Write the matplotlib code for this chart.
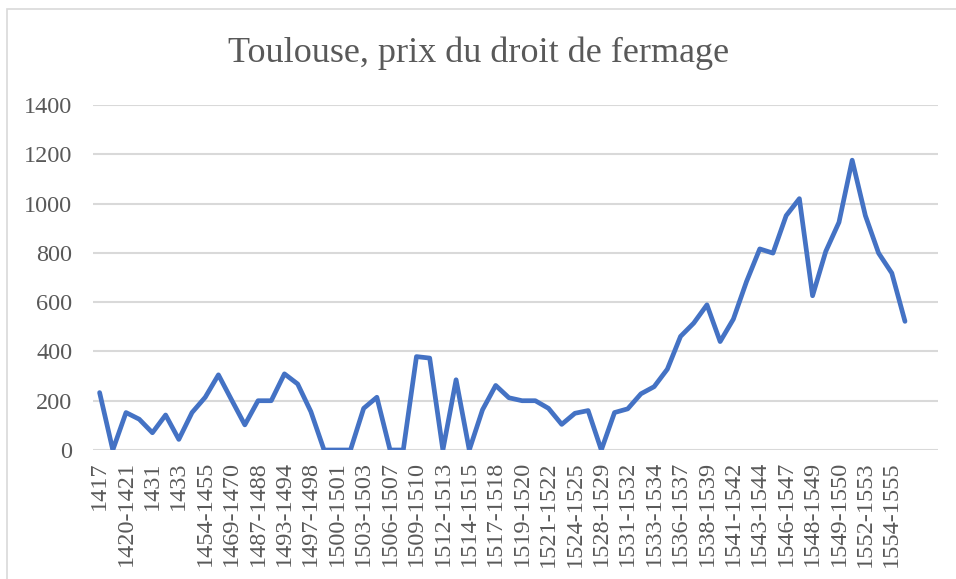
import matplotlib.pyplot as plt
from matplotlib.patches import Rectangle

TITLE = "Toulouse, prix du droit de fermage"

# one value per category (62 periods)
prix = [
    233, 0, 152, 125, 70, 142, 43, 152, 214, 305,
    203, 102, 200, 200, 309, 268, 156, 0, 0, 0,
    169, 214, 0, 0, 379, 373, 0, 285, 0, 163,
    262, 212, 200, 200, 169, 104, 149, 160, 0, 152,
    167, 228, 257, 328, 461, 515, 589, 440, 531, 684,
    816, 799, 951, 1020, 626, 806, 924, 1176, 951, 799,
    718, 522,
]

# only every second category is labelled on the axis
tick_labels = [
    "1417", "1420-1421", "1431", "1433", "1454-1455", "1469-1470",
    "1487-1488", "1493-1494", "1497-1498", "1500-1501", "1503-1503",
    "1506-1507", "1509-1510", "1512-1513", "1514-1515", "1517-1518",
    "1519-1520", "1521-1522", "1524-1525", "1528-1529", "1531-1532",
    "1533-1534", "1536-1537", "1538-1539", "1541-1542", "1543-1544",
    "1546-1547", "1548-1549", "1549-1550", "1552-1553", "1554-1555",
]
y_ticks = [0, 200, 400, 600, 800, 1000, 1200, 1400]

TEXT = '#595959'
GRID = '#d9d9d9'
BLUE = '#4472C4'

plt.rcParams['font.family'] = ['Liberation Serif', 'DejaVu Serif']

W, H = 956, 579
fig = plt.figure(figsize=(W / 100, H / 100), dpi=100)

# chart area border (cut at right/bottom like the screenshot)
fig.patches.append(Rectangle((7 / W, -0.05), 1.2, 1 - 9 / H + 0.05,
                             transform=fig.transFigure, fill=False,
                             edgecolor=GRID, linewidth=1.2))

ax = fig.add_axes([93 / W, 1 - 450 / H, (938 - 93) / W, (450 - 105) / H])

x = list(range(len(prix)))
ax.plot(x, prix, color=BLUE, linewidth=3.4,
        solid_joinstyle='round', solid_capstyle='round', zorder=3)

ax.set_xlim(-0.5, 63.5)
ax.set_ylim(0, 1400)
ax.set_yticks(y_ticks)
ax.set_yticklabels([str(v) for v in y_ticks], color=TEXT, fontsize=17.5)
ax.set_xticks(range(0, 2 * len(tick_labels), 2))
ax.set_xticklabels(tick_labels, rotation=90, color=TEXT, fontsize=17.5)
ax.tick_params(axis='both', length=0)
ax.tick_params(axis='y', pad=15)
ax.tick_params(axis='x', pad=8)

ax.grid(axis='y', color=GRID, linewidth=1.5)
ax.set_axisbelow(True)
for s in ax.spines.values():
    s.set_visible(False)

fig.text(0.5 * (230 + 728) / W, 1 - 53 / H, TITLE, ha='center', va='center',
         color=TEXT, fontsize=26)

fig.savefig('out.png', dpi=100)
